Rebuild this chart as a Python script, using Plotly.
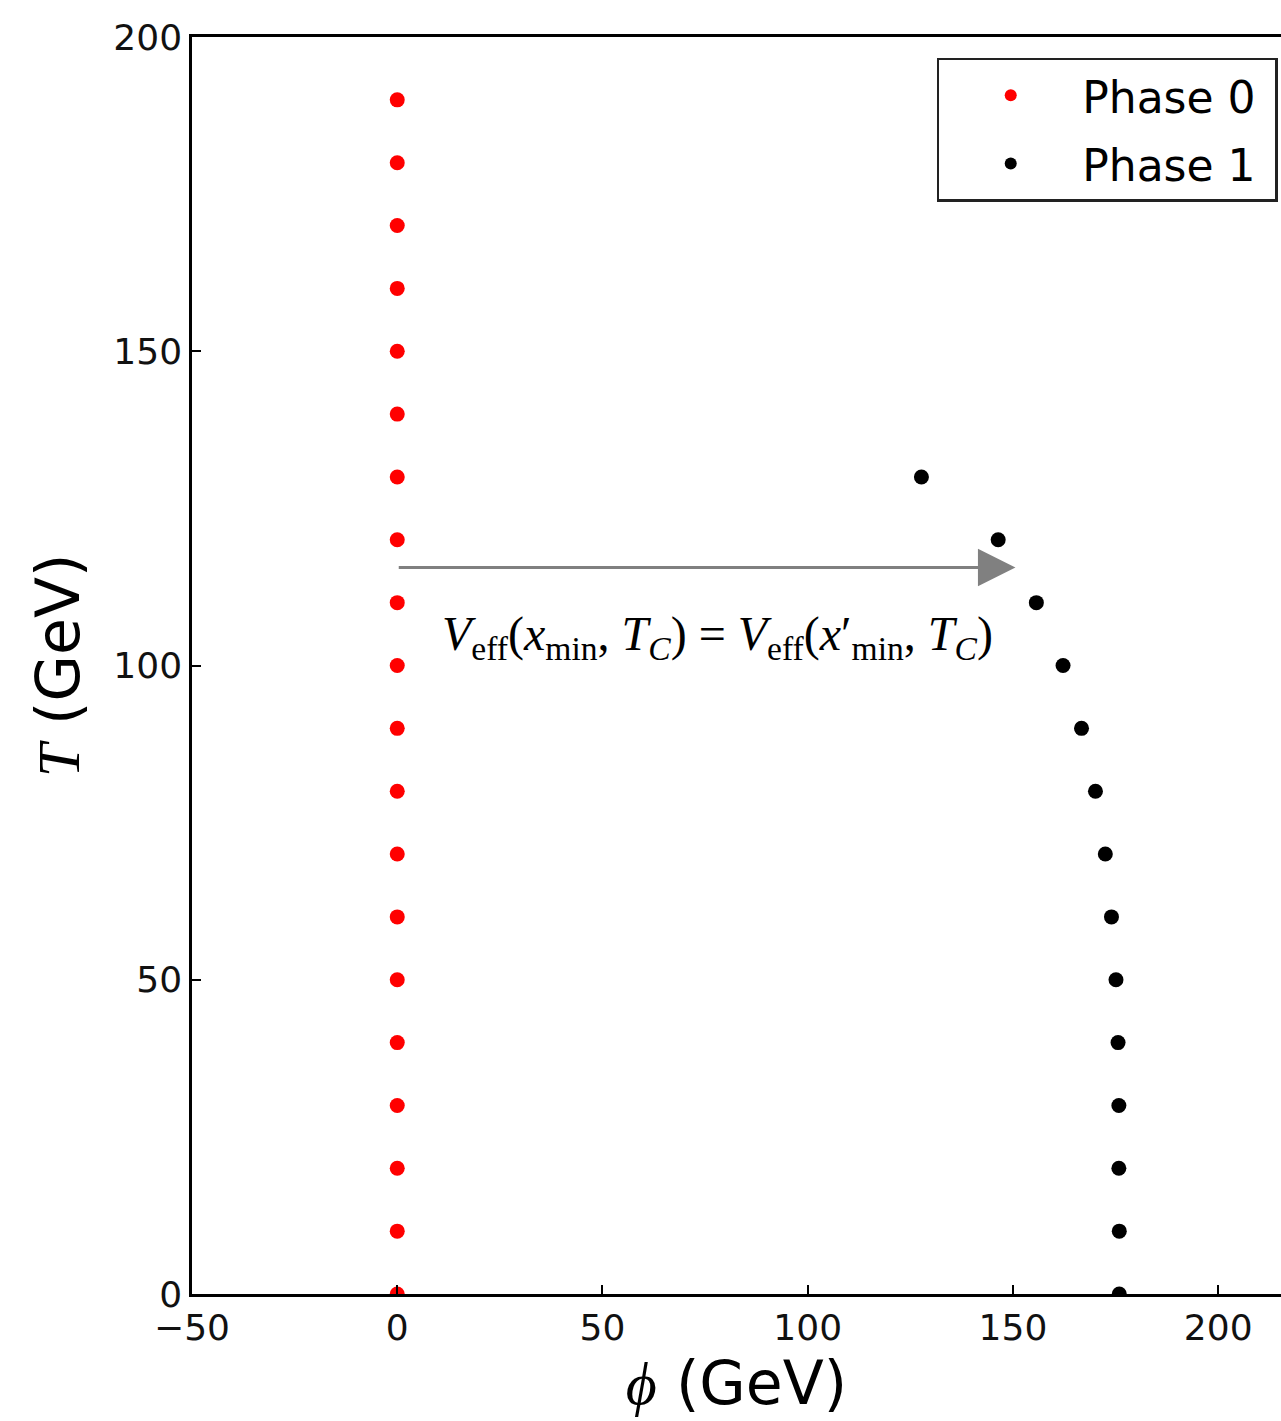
import plotly.graph_objects as go

# Data
phase0_T = [0, 10, 20, 30, 40, 50, 60, 70, 80, 90, 100, 110, 120, 130, 140, 150, 160, 170, 180, 190]
phase0_phi = [0.0] * 20

phase1_T = [130, 120, 110, 100, 90, 80, 70, 60, 50, 40, 30, 20, 10, 0]
phase1_phi = [127.7, 146.4, 155.7, 162.2, 166.7, 170.1, 172.5, 174.0, 175.1, 175.6, 175.8, 175.8, 175.9, 175.9]

x_ticks = [-50, 0, 50, 100, 150, 200]
y_ticks = [0, 50, 100, 150, 200]

arrow_T = 115.6
arrow_start = 0
arrow_end = 150.6

fig = go.Figure()
fig.add_trace(go.Scatter(x=phase0_phi, y=phase0_T, mode="markers", name="Phase 0\u00a0",
                         legendgroup="p0",
                         marker=dict(color="#ff0000", size=15, line=dict(width=0)),
                         cliponaxis=True))
fig.add_trace(go.Scatter(x=phase1_phi, y=phase1_T, mode="markers", name="Phase 1\u00a0",
                         legendgroup="p1",
                         marker=dict(color="#000000", size=15, line=dict(width=0)),
                         cliponaxis=True))

fig.add_annotation(x=arrow_end, y=arrow_T, ax=arrow_start, ay=arrow_T,
                   xref="x", yref="y", axref="x", ayref="y",
                   text="", showarrow=True, arrowhead=2, arrowsize=2.5,
                   arrowwidth=3, arrowcolor="#808080", standoff=0)

fig.add_annotation(x=78.0, y=104.6, xref="x", yref="y", showarrow=False,
                   text="<i>V</i><sub>eff</sub>(<i>x</i><sub>min</sub>, <i>T</i><sub><i>C</i></sub>) = "
                        "<i>V</i><sub>eff</sub>(<i>x</i>′<sub>min</sub>, <i>T</i><sub><i>C</i></sub>)",
                   font=dict(family="Liberation Serif", size=48, color="black"))

axis_common = dict(showgrid=False, zeroline=False, showline=True, linecolor="black",
                   linewidth=2.5, ticks="inside", ticklen=9, tickwidth=1.5, automargin=False,
                   tickcolor="black", tickfont=dict(family="DejaVu Sans", size=36, color="#111111"))

fig.update_xaxes(range=[-50, 215.3], tickvals=x_ticks, mirror=True,
                 title=dict(text="<span style=\"font-family:'Liberation Serif'\"><i>ϕ</i></span> (GeV)",
                            font=dict(family="DejaVu Sans", size=60, color="black"),
                            standoff=10),
                 **axis_common)
fig.update_yaxes(range=[0, 200], tickvals=y_ticks, mirror=True,
                 title=dict(text="<span style=\"font-family:'Liberation Serif'\"><i>T</i></span> (GeV)",
                            font=dict(family="DejaVu Sans", size=60, color="black"),
                            standoff=15),
                 **axis_common)

fig.update_layout(
    width=1281, height=1421,
    margin=dict(l=192, r=0, t=37, b=127),
    plot_bgcolor="white", paper_bgcolor="white",
    legend=dict(x=0.997, y=0.9835, xanchor="right", yanchor="top",
                bordercolor="#222222", borderwidth=2.5, bgcolor="white",
                font=dict(family="DejaVu Sans", size=44, color="black"),
                itemsizing="constant", itemwidth=133, tracegroupgap=8),
)

fig.write_html("out.html", config={"displayModeBar": False},
               post_script="document.body.style.margin='0px';document.body.style.overflow='hidden';")
